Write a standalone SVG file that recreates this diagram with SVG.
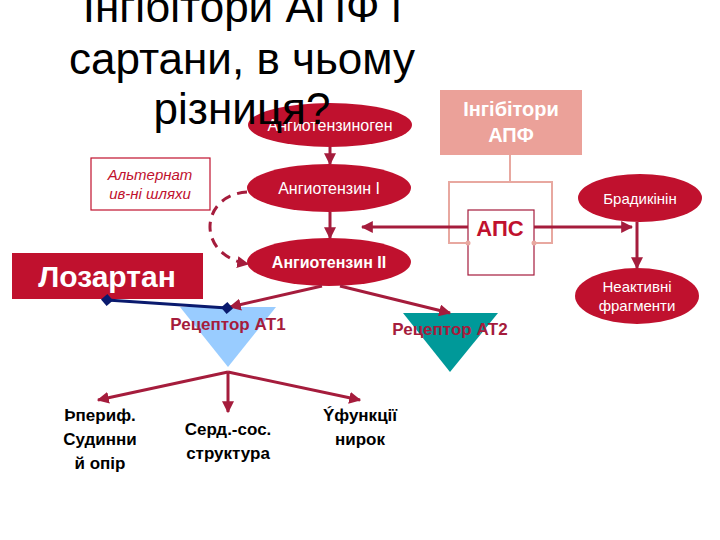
<svg xmlns="http://www.w3.org/2000/svg" width="720" height="540" viewBox="0 0 720 540">
<defs>
<style>
.el{fill:#C0112E}
.wt{fill:#fff;font-family:"Liberation Sans",Arial,sans-serif;text-anchor:middle}
.ln{stroke:#A51C3C;stroke-width:3;fill:none}
.lb{font-family:"Liberation Sans",Arial,sans-serif;font-weight:bold;font-size:17px;text-anchor:middle;fill:#000}
.rl{font-family:"Liberation Sans",Arial,sans-serif;font-weight:bold;font-size:17px;text-anchor:middle;fill:#A51C3C}
</style>
<marker id="ar" viewBox="0 0 10 10" refX="9" refY="5" markerWidth="4" markerHeight="4" orient="auto"><path d="M0,0L10,5L0,10z" fill="#A51C3C"/></marker>
<marker id="dm" viewBox="0 0 10 10" refX="5" refY="5" markerWidth="4" markerHeight="4" orient="auto"><path d="M0,5L5,0L10,5L5,10z" fill="#0A1A6E"/></marker>
</defs>
<rect width="720" height="540" fill="#fff"/>
<g id="title" font-family="Liberation Sans,Arial,sans-serif" font-size="44" text-anchor="middle" fill="#000">
<text x="242" y="22">Інгібітори АПФ і</text>
<text x="242" y="74">сартани, в чьому</text>
</g>
<g id="angiotensinogen"><ellipse class="el" cx="330" cy="125" rx="82" ry="22"/><text class="wt" x="330" y="131" font-size="16">Ангиотензиноген</text></g>
<text x="242" y="124" font-family="Liberation Sans,Arial,sans-serif" font-size="44" text-anchor="middle">різниця?</text>
<g id="inhib"><rect x="440" y="90" width="142" height="65" fill="#EBA199"/><text class="wt" x="511" y="116" font-size="20" font-weight="bold">Інгібітори</text><text class="wt" x="511" y="142" font-size="20" font-weight="bold">АПФ</text></g>
<g id="alt"><rect x="91" y="158" width="119" height="52" fill="#fff" stroke="#C0112E" stroke-width="1.2"/><text x="150" y="180" font-family="Liberation Sans,Arial,sans-serif" font-style="italic" font-size="15" fill="#C0112E" text-anchor="middle">Альтернат</text><text x="150" y="199" font-family="Liberation Sans,Arial,sans-serif" font-style="italic" font-size="15" fill="#C0112E" text-anchor="middle">ив-ні шляхи</text></g>
<g id="ang1"><ellipse class="el" cx="329" cy="188" rx="82" ry="24"/><text class="wt" x="329" y="194" font-size="16">Ангиотензин I</text></g>
<g id="brad"><ellipse class="el" cx="640" cy="198" rx="62" ry="24"/><text class="wt" x="640" y="204" font-size="15">Брадикінін</text></g>
<g id="aps"><rect x="449" y="182" width="103" height="61" fill="none" stroke="#E8A8A0" stroke-width="2"/><rect x="468" y="210" width="66" height="65" fill="#fff" stroke="#A51C3C" stroke-width="1.2"/><text x="500" y="236" font-family="Liberation Sans,Arial,sans-serif" font-weight="bold" font-size="22" fill="#C0112E" text-anchor="middle">АПС</text><circle cx="468" cy="243" r="2.5" fill="#E8A8A0"/><circle cx="534" cy="243" r="2.5" fill="#E8A8A0"/></g>
<g id="ang2"><ellipse class="el" cx="329" cy="262" rx="82" ry="24"/><text class="wt" x="329" y="268" font-size="16" font-weight="bold">Ангиотензин II</text></g>
<g id="losartan"><rect x="12" y="253" width="191" height="46" fill="#C0112E"/><text class="wt" x="107" y="287" font-size="30" font-weight="bold">Лозартан</text></g>
<g id="inactive"><ellipse class="el" cx="637" cy="296" rx="62" ry="28"/><text class="wt" x="637" y="292" font-size="15">Неактивні</text><text class="wt" x="637" y="311" font-size="15">фрагменти</text></g>
<g id="at1"><polygon points="180,307 276,307 228,367" fill="#99CCFF"/><text class="rl" x="228" y="330">Рецептор АТ1</text></g>
<g id="at2"><polygon points="403,313 498,313 450,372" fill="#009999"/><text class="rl" x="450" y="335">Рецептор АТ2</text></g>
<g id="effects">
<text class="lb" x="100" y="421">Þпериф.</text><text class="lb" x="100" y="445">Судинни</text><text class="lb" x="100" y="469">й опір</text>
<text class="lb" x="228" y="435">Серд.-сос.</text><text class="lb" x="228" y="459">структура</text>
<text class="lb" x="360" y="421">Ýфункції</text><text class="lb" x="360" y="445">нирок</text>
</g>
<g id="connectors">
<line class="ln" x1="330" y1="147" x2="330" y2="164" marker-end="url(#ar)"/>
<line class="ln" x1="330" y1="212" x2="330" y2="238" marker-end="url(#ar)"/>
<line x1="510" y1="155" x2="510" y2="182" stroke="#E8A8A0" stroke-width="2"/>
<line class="ln" x1="468" y1="227" x2="362" y2="227" marker-end="url(#ar)"/>
<line class="ln" x1="534" y1="227" x2="632" y2="227" marker-end="url(#ar)"/>
<line class="ln" x1="637" y1="222" x2="637" y2="268" marker-end="url(#ar)"/>
<path class="ln" d="M247,192 C200,195 195,255 248,264" stroke-dasharray="10,7" marker-end="url(#ar)"/>
<line class="ln" x1="322" y1="286" x2="230" y2="307" marker-end="url(#ar)"/>
<line class="ln" x1="340" y1="286" x2="450" y2="313" marker-end="url(#ar)"/>
<line x1="107" y1="300" x2="227" y2="308" stroke="#0A1A6E" stroke-width="3" marker-start="url(#dm)" marker-end="url(#dm)"/>
<line class="ln" x1="228" y1="372" x2="98" y2="400" marker-end="url(#ar)"/>
<line class="ln" x1="228" y1="372" x2="228" y2="412" marker-end="url(#ar)"/>
<line class="ln" x1="228" y1="372" x2="360" y2="400" marker-end="url(#ar)"/>
</g>
</svg>
